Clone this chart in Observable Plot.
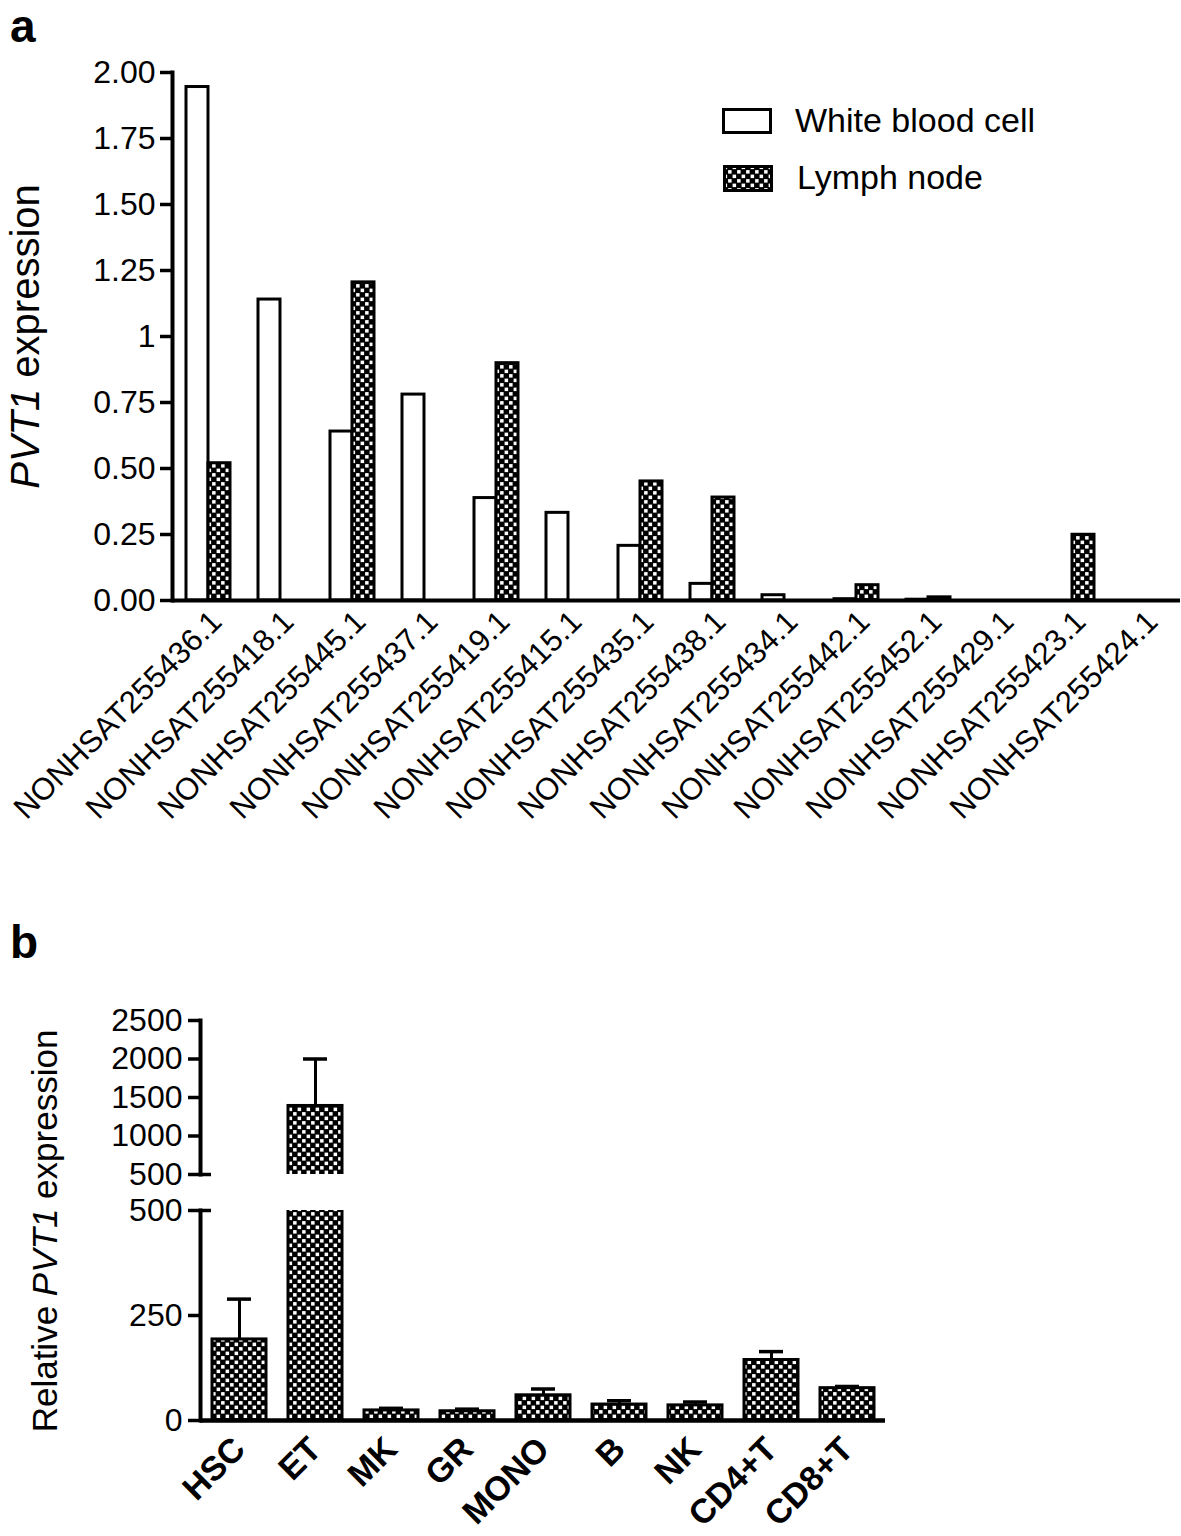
<!DOCTYPE html>
<html>
<head>
<meta charset="utf-8">
<script src="https://cdn.jsdelivr.net/npm/d3@7"></script>
<script src="https://cdn.jsdelivr.net/npm/@observablehq/plot@0.6"></script>
<style>
  body { margin: 0; background: #fff; font-family: "Liberation Sans", Arial, Helvetica, sans-serif; color: #000; }
  #page { position: relative; width: 1181px; height: 1536px; overflow: hidden; background: #fff; }
  .abs { position: absolute; }
  .panel { position: absolute; font-weight: bold; font-size: 46px; line-height: 52px; }
  .legtext { position: absolute; font-size: 34px; line-height: 34px; white-space: nowrap; }
  .ylab { position: absolute; width: 0; height: 0; }
  .ylab span { position: absolute; left: 0; top: 0; white-space: nowrap; transform: translate(-50%, -50%) rotate(-90deg); }
</style>
</head>
<body>
<svg width="0" height="0" style="position:absolute">
  <defs>
    <pattern id="checker" width="9" height="9" patternUnits="userSpaceOnUse">
      <rect width="9" height="9" fill="#000"></rect>
      <rect x="0.6" y="0.6" width="3.5" height="3.5" fill="#fff"></rect>
      <rect x="5.1" y="5.1" width="3.5" height="3.5" fill="#fff"></rect>
    </pattern>
  </defs>
</svg>
<div id="page">
  <div class="panel" style="left:10px; top:0px;">a</div>
  <div class="panel" style="left:10px; top:916px;">b</div>
  <div id="chartA" class="abs" style="left:0; top:0;"></div>
  <div id="chartBtop" class="abs" style="left:0; top:990px;"></div>
  <div id="chartBbot" class="abs" style="left:0; top:1180px;"></div>
  <!-- legend of panel a -->
  <svg class="abs" style="left:722px; top:108px;" width="52" height="28">
    <rect x="1.5" y="1.5" width="47" height="23" fill="#fff" stroke="#000" stroke-width="3"></rect>
  </svg>
  <div class="legtext" style="left:795px; top:103px;">White blood cell</div>
  <svg class="abs" style="left:723px; top:165px;" width="52" height="29">
    <rect x="1.5" y="1.5" width="47" height="24" fill="url(#checker)" stroke="#000" stroke-width="3"></rect>
  </svg>
  <div class="legtext" style="left:797px; top:160px;">Lymph node</div>
  <!-- y label of panel b (spans the broken axis) -->
  <div class="ylab" style="left:45px; top:1231px;"><span style="font-size:35px;">Relative <i>PVT1</i> expression</span></div>
</div>
<script>
// ---------- Panel a data ----------
const transcripts = [
  "NONHSAT255436.1", "NONHSAT255418.1", "NONHSAT255445.1", "NONHSAT255437.1",
  "NONHSAT255419.1", "NONHSAT255415.1", "NONHSAT255435.1", "NONHSAT255438.1",
  "NONHSAT255434.1", "NONHSAT255442.1", "NONHSAT255452.1", "NONHSAT255429.1",
  "NONHSAT255423.1", "NONHSAT255424.1"
];
const whiteBloodCell = [1.945, 1.14, 0.64, 0.78, 0.388, 0.332, 0.207, 0.063, 0.02, 0.005, 0.003, 0, 0, 0];
const lymphNode      = [0.52, 0, 1.205, 0, 0.899, 0, 0.451, 0.39, 0, 0.058, 0.012, 0, 0.249, 0];
const seriesNames = ["White blood cell", "Lymph node"];
const yTicksA = [0, 0.25, 0.5, 0.75, 1, 1.25, 1.5, 1.75, 2];
const yTickLabelsA = ["0.00", "0.25", "0.50", "0.75", "1", "1.25", "1.50", "1.75", "2.00"];

// ---------- Panel b data ----------
const cellTypes = ["HSC", "ET", "MK", "GR", "MONO", "B", "NK", "CD4+T", "CD8+T"];
const meanExpr  = [193, 1390, 24, 22, 60, 38, 36, 144, 77];
const sdExpr    = [96, 610, 5, 5, 15, 9, 8, 20, 4];
const yTicksBtop = [500, 1000, 1500, 2000, 2500];
const yTicksBbot = [0, 250, 500];

const FONT = '"Liberation Sans", Arial, Helvetica, sans-serif';
const W = 1181;

// ---------- Panel a ----------
const rowsA = transcripts.flatMap((t, i) => [
  {t, s: seriesNames[0], v: whiteBloodCell[i]},
  {t, s: seriesNames[1], v: lymphNode[i]}
]);
const mlA = 172, mrA = 1;
const padInA = 0.39, padOutA = 0.18;
const stepA = (W - mlA - mrA) / (transcripts.length - padInA + 2 * padOutA);
const halfA = stepA * (1 - padInA) / 2;

const plotA = Plot.plot({
  width: W, height: 870,
  marginTop: 72, marginBottom: 270, marginLeft: mlA, marginRight: mrA,
  style: {fontFamily: FONT, fontSize: "32px", color: "#000", background: "transparent", overflow: "visible"},
  x: {domain: transcripts, paddingInner: padInA, paddingOuter: padOutA},
  y: {domain: [0, 2]},
  marks: [
    Plot.barY(rowsA.filter(d => d.s === seriesNames[0] && d.v > 0),
      {x: "t", y: "v", fill: "#fff", stroke: "#000", strokeWidth: 3, insetRight: halfA}),
    Plot.barY(rowsA.filter(d => d.s === seriesNames[1] && d.v > 0),
      {x: "t", y: "v", fill: "url(#checker)", stroke: "#000", strokeWidth: 3, insetLeft: halfA}),
    Plot.ruleY([0], {stroke: "#000", strokeWidth: 4}),
    Plot.frame({anchor: "left", stroke: "#000", strokeWidth: 4}),
    Plot.axisY({
      ticks: yTicksA, tickFormat: d => yTickLabelsA[yTicksA.indexOf(d)],
      tickSize: 12, tickPadding: 5, strokeWidth: 3.5,
      label: "PVT1 expression", labelAnchor: "center", labelOffset: 162
    }),
    Plot.axisX({tickRotate: -45, tickSize: 0, tickPadding: 16, dx: 8, fontSize: 31, label: null})
  ]
});
document.getElementById("chartA").appendChild(plotA);

// italic gene name in axis title
(function () {
  const lab = plotA.querySelector('[aria-label="y-axis label"] text');
  if (lab) {
    lab.textContent = "";
    const ns = "http://www.w3.org/2000/svg";
    const t1 = document.createElementNS(ns, "tspan");
    t1.setAttribute("font-style", "italic");
    t1.textContent = "PVT1";
    const t2 = document.createElementNS(ns, "tspan");
    t2.textContent = " expression";
    lab.appendChild(t1); lab.appendChild(t2);
    lab.setAttribute("font-size", "40");
    lab.style.fontSize = "40px";
  }
})();

// ---------- Panel b (broken axis: two stacked plots) ----------
const rowsB = cellTypes.map((c, i) => ({c, m: meanExpr[i], sd: sdExpr[i]}));
const mlB = 200, mrB = 296;
const padInB = 0.29, padOutB = 0.15;
const stepB = (W - mlB - mrB) / (cellTypes.length - padInB + 2 * padOutB);
const bwB = stepB * (1 - padInB);
const capInset = (bwB - 24) / 2;
const breakLen = 11;

function panelB({yDomain, height, marginTop, marginBottom, ticks, bottom}) {
  const plotW = W - mlB - mrB;
  const marks = [
    Plot.ruleX(rowsB, {x: "c", y1: "m", y2: d => d.m + d.sd, stroke: "#000", strokeWidth: 3, clip: true}),
    Plot.tickY(rowsB, {x: "c", y: d => d.m + d.sd, stroke: "#000", strokeWidth: 3.5, insetLeft: capInset, insetRight: capInset, clip: true}),
    Plot.barY(rowsB, {x: "c", y: "m", fill: "url(#checker)", stroke: "#000", strokeWidth: 3, clip: true}),
    Plot.frame({anchor: "left", stroke: "#000", strokeWidth: 4}),
    // axis-break marks
    Plot.ruleY([500], {stroke: "#000", strokeWidth: 3.5, insetRight: plotW - breakLen}),
    Plot.axisY({ticks, tickFormat: d => String(d), tickSize: 12, tickPadding: 6, strokeWidth: 3.5, label: null})
  ];
  if (bottom) {
    marks.push(Plot.ruleY([0], {stroke: "#000", strokeWidth: 4.5}));
    marks.push(Plot.axisX({tickRotate: -45, tickSize: 0, tickPadding: 23, label: null, fontWeight: "bold", fontSize: 34}));
  }
  return Plot.plot({
    width: W, height, marginTop, marginBottom, marginLeft: mlB, marginRight: mrB,
    style: {fontFamily: FONT, fontSize: "32px", color: "#000", background: "transparent", overflow: "visible"},
    x: {domain: cellTypes, paddingInner: padInB, paddingOuter: padOutB, axis: bottom ? undefined : null},
    y: {domain: yDomain},
    marks
  });
}

document.getElementById("chartBtop").appendChild(panelB({
  yDomain: [500, 2500], height: 200, marginTop: 30, marginBottom: 16, ticks: yTicksBtop, bottom: false
}));
document.getElementById("chartBbot").appendChild(panelB({
  yDomain: [0, 500], height: 356, marginTop: 30, marginBottom: 116, ticks: yTicksBbot, bottom: true
}));
</script>
</body>
</html>
